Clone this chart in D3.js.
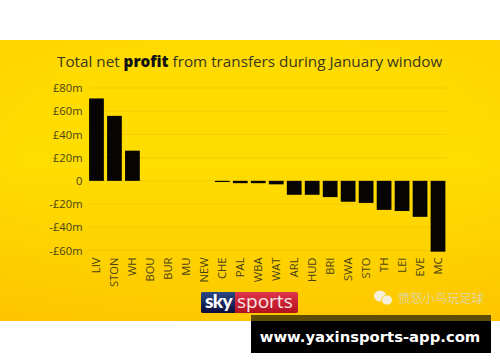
<!DOCTYPE html>
<html>
<head>
<meta charset="utf-8">
<script src="https://cdn.jsdelivr.net/npm/d3@7"></script>
<style>
	html, body { margin: 0; padding: 0; background: #fff; }
	svg { display: block; }
	text { font-family: "Open Sans", sans-serif; }
	.axis path, .axis line { display: none; }
	.axis text { font-family: "Open Sans", sans-serif; fill: #4a4214; font-size: 11.2px; }
	.grid line { stroke: #e8bd00; stroke-width: 0.5; }
</style>
</head>
<body>
<div id="chart"></div>
<script>
const teams = ['LIV', 'STON', 'WH', 'BOU', 'BUR', 'MU', 'NEW', 'CHE', 'PAL', 'WBA', 'WAT', 'ARL', 'HUD', 'BRI', 'SWA', 'STO', 'TH', 'LEI', 'EVE', 'MC'];
const profit = [71, 56, 26, 0, 0, 0, 0, -1, -2, -2, -3, -12, -12, -14, -18, -19, -25, -26, -31, -61];
const yTicks = [80, 60, 40, 20, 0, -20, -40, -60];

const width = 500;
const height = 362;

// dimension stuff
const marginLeft = 87;
const marginRight = 53;
const bandTop = 88;
const bandBottom = 250.5;

const $svg = d3.select('#chart').append('svg')
	.attr('width', width)
	.attr('height', height);

// background gradients
const $defs = $svg.append('defs');
const $bg = $defs.append('linearGradient')
	.attr('id', 'bg')
	.attr('x1', 0).attr('x2', 0).attr('y1', 0).attr('y2', 1);
$bg.append('stop').attr('offset', '0%').attr('stop-color', '#ffdb00');
$bg.append('stop').attr('offset', '45%').attr('stop-color', '#fedd00');
$bg.append('stop').attr('offset', '100%').attr('stop-color', '#fec900');

const $edge = $defs.append('radialGradient')
	.attr('id', 'edge')
	.attr('cx', 0.5).attr('cy', 0.45).attr('r', 0.75);
$edge.append('stop').attr('offset', '60%').attr('stop-color', '#fdb500').attr('stop-opacity', 0);
$edge.append('stop').attr('offset', '100%').attr('stop-color', '#fdb500').attr('stop-opacity', 0.25);

const $logoDark = $defs.append('linearGradient')
	.attr('id', 'logo-dark')
	.attr('x1', 0).attr('x2', 0).attr('y1', 0).attr('y2', 1);
$logoDark.append('stop').attr('offset', '0%').attr('stop-color', '#2b4a86');
$logoDark.append('stop').attr('offset', '100%').attr('stop-color', '#0a0c3a');

const $logoRed = $defs.append('linearGradient')
	.attr('id', 'logo-red')
	.attr('x1', 0).attr('x2', 0).attr('y1', 0).attr('y2', 1);
$logoRed.append('stop').attr('offset', '0%').attr('stop-color', '#e0344a');
$logoRed.append('stop').attr('offset', '100%').attr('stop-color', '#b3101f');

$svg.append('rect')
	.attr('x', 0).attr('y', 40)
	.attr('width', width).attr('height', 281)
	.attr('fill', 'url(#bg)');
$svg.append('rect')
	.attr('x', 0).attr('y', 40)
	.attr('width', width).attr('height', 281)
	.attr('fill', 'url(#edge)');

// title
const $title = $svg.append('text')
	.attr('x', 57)
	.attr('y', 67)
	.attr('fill', '#3a371f')
	.style('font-size', '15.25px');
$title.append('tspan').text('Total net ');
$title.append('tspan').style('font-weight', 800).attr('fill', '#111').text('profit');
$title.append('tspan').text(' from transfers during January window');

// scales
const scaleX = d3.scaleBand()
	.domain(teams)
	.range([marginLeft + 0.5, width - marginRight])
	.paddingInner(0.18)
	.paddingOuter(0.09);

const scaleY = d3.scaleLinear()
	.domain([80, -60])
	.range([bandTop, bandBottom]);

const fmt = d => (d === 0 ? '0' : `${d < 0 ? '-' : ''}£${Math.abs(d)}m`);

// grid
$svg.append('g').attr('class', 'grid')
	.selectAll('line')
	.data(yTicks)
	.join('line')
	.attr('x1', marginLeft + 2)
	.attr('x2', width - marginRight)
	.attr('y1', d => scaleY(d))
	.attr('y2', d => scaleY(d));

// axes
$svg.append('g')
	.attr('class', 'axis')
	.attr('transform', 'translate(82.5,0)')
	.call(d3.axisLeft(scaleY).tickValues(yTicks).tickFormat(fmt).tickSize(0).tickPadding(0));

const $xAxis = $svg.append('g')
	.attr('class', 'axis')
	.attr('transform', `translate(0,${bandBottom})`)
	.call(d3.axisBottom(scaleX).tickSize(0));

$xAxis.selectAll('text')
	.attr('transform', 'rotate(-90)')
	.attr('text-anchor', 'end')
	.attr('dx', '-7')
	.attr('dy', '0')
	.attr('x', 0)
	.attr('y', 4);

// bars
$svg.append('g')
	.selectAll('rect')
	.data(teams.map((team, i) => ({ team, value: profit[i] })).filter(d => d.value !== 0))
	.join('rect')
	.attr('x', d => scaleX(d.team))
	.attr('width', scaleX.bandwidth())
	.attr('y', d => Math.min(scaleY(d.value), scaleY(0)))
	.attr('height', d => Math.abs(scaleY(d.value) - scaleY(0)))
	.attr('fill', '#060503');

// sky sports logo
const $logo = $svg.append('g');
$logo.append('rect')
	.attr('x', 201).attr('y', 292)
	.attr('width', 97).attr('height', 21)
	.attr('rx', 2)
	.attr('fill', 'url(#logo-red)');
$logo.append('path')
	.attr('d', 'M203 292H235V313H203a2 2 0 0 1-2-2V294a2 2 0 0 1 2-2Z')
	.attr('fill', 'url(#logo-dark)');
$logo.append('text')
	.attr('x', 205).attr('y', 308)
	.attr('fill', '#fff')
	.style('font-family', 'Lato, sans-serif')
	.style('font-size', '19px')
	.style('font-weight', 900)
	.style('letter-spacing', '-0.6px')
	.text('sky');
$logo.append('text')
	.attr('x', 237).attr('y', 308)
	.attr('fill', '#f6e6e6')
	.style('font-size', '19px')
	.text('sports');

// watermark
const $mark = $svg.append('g').attr('fill', '#f4f0dc');
$mark.append('ellipse').attr('cx', 380).attr('cy', 296).attr('rx', 6).attr('ry', 5.5);
$mark.append('ellipse').attr('cx', 387).attr('cy', 300).attr('rx', 5.5).attr('ry', 5)
	.attr('stroke', '#fecf00').attr('stroke-width', 0.8);
$mark.append('text')
	.attr('x', 398).attr('y', 303)
	.attr('fill', '#dfd69e')
	.style('font-family', '"Noto Sans CJK SC"')
	.style('font-size', '12.3px')
	.text('愤怒小鸟玩足球');

// banner
$svg.append('rect')
	.attr('x', 251).attr('y', 315)
	.attr('width', 240).attr('height', 6)
	.attr('fill', '#5f4c00');
$svg.append('rect')
	.attr('x', 251).attr('y', 321)
	.attr('width', 240).attr('height', 32)
	.attr('fill', '#000');
$svg.append('text')
	.attr('x', 370).attr('y', 342)
	.attr('text-anchor', 'middle')
	.attr('fill', '#fff')
	.style('font-family', '"DejaVu Sans", sans-serif')
	.style('font-weight', 700)
	.style('font-size', '14.8px')
	.text('www.yaxinsports-app.com');
</script>
</body>
</html>
